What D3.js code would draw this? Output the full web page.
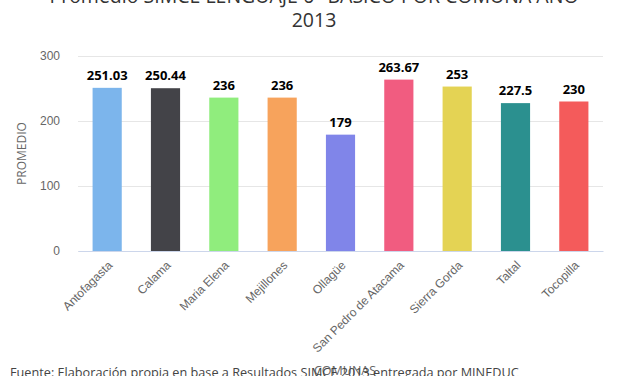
<!DOCTYPE html>
<html>
<head>
<meta charset="utf-8">
<script src="https://cdn.jsdelivr.net/npm/d3@7"></script>
<style>
  body { margin: 0; background: #fff; }
  svg { font-family: "Open Sans", "DejaVu Sans", sans-serif; }
  .grid line { stroke: #e6e6e6; }
  .grid .domain { display: none; }
  .axis--y text { fill: #666; font-size: 12px; }
  .axis--x text { fill: #666; font-size: 12px; }
</style>
</head>
<body>
<div id="chart"></div>
<script>
// Data
var comunas = ["Antofagasta", "Calama", "Maria Elena", "Mejillones", "Ollagüe",
               "San Pedro de Atacama", "Sierra Gorda", "Taltal", "Tocopilla"];
var promedios = [251.03, 250.44, 236, 236, 179, 263.67, 253, 227.5, 230];
var labels = ["251.03", "250.44", "236", "236", "179", "263.67", "253", "227.5", "230"];
var colores = ["#7cb5ec", "#434348", "#90ed7d", "#f7a35c", "#8085e9",
               "#f15c80", "#e4d354", "#2b908f", "#f45b5b"];
var yTicks = [0, 100, 200, 300];

var W = 627, H = 376,
    margin = {top: 56, right: 24, bottom: 125, left: 78},
    width = W - margin.left - margin.right,
    height = H - margin.top - margin.bottom;

var svg = d3.select("#chart").append("svg")
    .attr("width", W).attr("height", H);

var g = svg.append("g")
    .attr("transform", "translate(" + margin.left + "," + margin.top + ")");

var x = d3.scaleBand().domain(comunas).range([0, width]).paddingInner(0.5).paddingOuter(0.25);
var y = d3.scaleLinear().domain([0, 300]).range([height, 0]);

// Grid lines + y labels
g.append("g")
    .attr("class", "grid axis--y")
    .call(d3.axisLeft(y).tickValues(yTicks).tickSize(-width).tickPadding(18))
  .selectAll(".tick line").attr("stroke", "#e6e6e6");
g.selectAll(".axis--y text").attr("fill", "#666");

// Bars
g.selectAll(".bar")
    .data(comunas)
  .enter().append("rect")
    .attr("class", "bar")
    .attr("x", function(d) { return x(d); })
    .attr("width", x.bandwidth())
    .attr("y", function(d, i) { return y(promedios[i]); })
    .attr("height", function(d, i) { return height - y(promedios[i]); })
    .attr("fill", function(d, i) { return colores[i]; });

// Data labels
g.selectAll(".lbl")
    .data(comunas)
  .enter().append("text")
    .attr("class", "lbl")
    .attr("x", function(d) { return x(d) + x.bandwidth() / 2; })
    .attr("y", function(d, i) { return y(promedios[i]) - 8; })
    .attr("text-anchor", "middle")
    .style("font-size", "13px")
    .style("font-weight", "bold")
    .style("fill", "#000")
    .text(function(d, i) { return labels[i]; });

// X axis
var xa = g.append("g")
    .attr("class", "axis axis--x")
    .attr("transform", "translate(0," + height + ")")
    .call(d3.axisBottom(x).tickSize(0).tickPadding(0));
xa.select(".domain").attr("stroke", "#ccd6eb");
xa.selectAll("text")
    .attr("text-anchor", "end")
    .attr("dy", "0.35em")
    .attr("transform", "translate(3,12) rotate(-45)");

// Axis titles
svg.append("text")
    .attr("transform", "translate(26," + (margin.top + height / 2) + ") rotate(-90)")
    .attr("text-anchor", "middle")
    .style("font-size", "12px")
    .style("fill", "#666")
    .text("PROMEDIO");

svg.append("text")
    .attr("x", 345)
    .attr("y", 375)
    .attr("text-anchor", "middle")
    .style("font-size", "12.5px")
    .style("fill", "#666")
    .text("COMUNAS");

// Title (partly cut at top in the original)
var title = svg.append("text")
    .attr("text-anchor", "middle")
    .style("font-size", "19.5px")
    .style("fill", "#333");
title.append("tspan").attr("x", 314).attr("y", 3)
    .text("Promedio SIMCE LENGUAJE 6° BÁSICO POR COMUNA AÑO");
title.append("tspan").attr("x", 314).attr("y", 27)
    .text("2013");

// Credits
svg.append("text")
    .attr("x", 10)
    .attr("y", 377)
    .style("font-size", "12.7px")
    .style("fill", "#444")
    .text("Fuente: Elaboración propia en base a Resultados SIMCE 2013 entregada por MINEDUC");
</script>
</body>
</html>
